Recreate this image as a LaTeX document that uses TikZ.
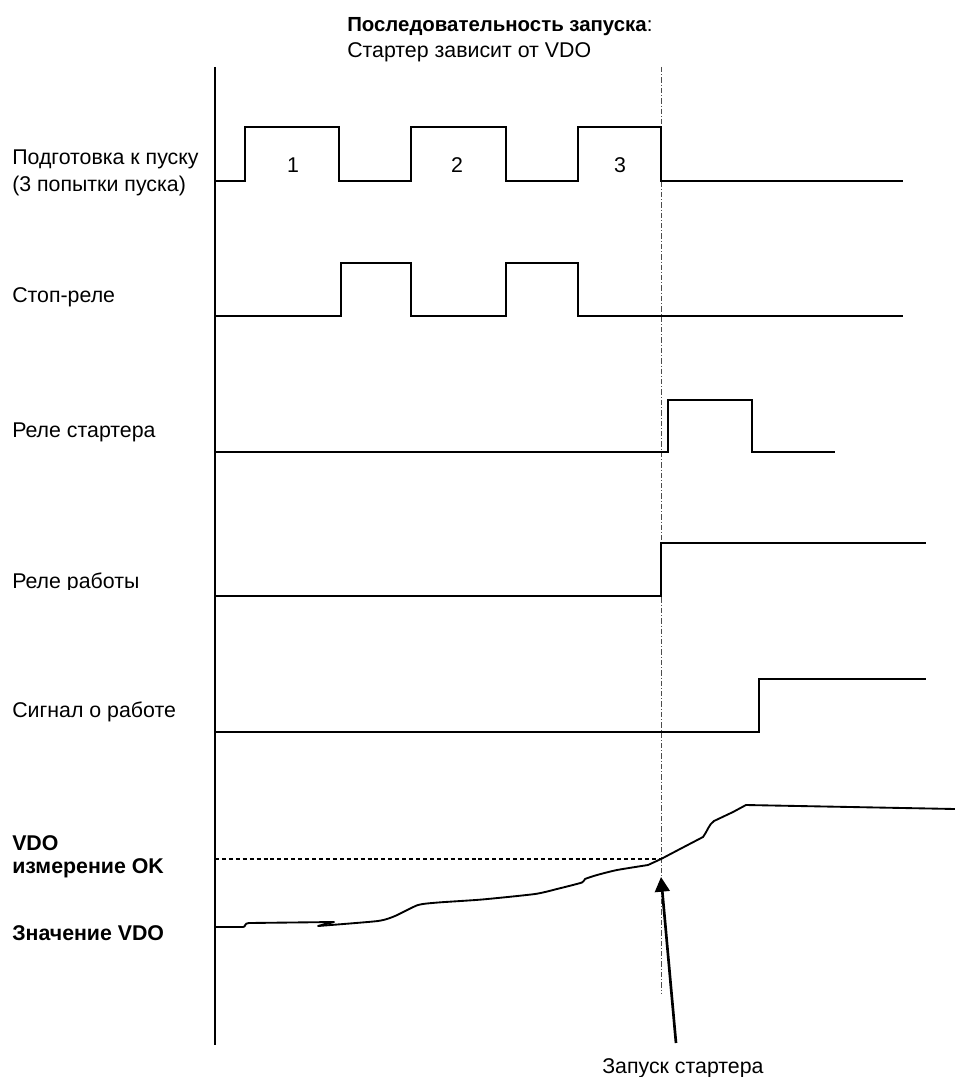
\documentclass[tikz,border=0pt]{standalone}
\usepackage{fontspec}
\setmainfont{Liberation Sans}
\usetikzlibrary{arrows.meta}

\begin{document}
\begin{tikzpicture}[x=0.75pt,y=-0.75pt,
  lbl/.style={anchor=base west, inner sep=0pt, font=\fontsize{16}{19}\selectfont},
  headlbl/.style={anchor=base west, inner sep=0pt, font=\fontsize{15.3}{18}\selectfont},
  num/.style={inner sep=0pt, font=\fontsize{16}{19}\selectfont},
  wave/.style={line width=1.5pt, line join=miter},
  axisline/.style={line width=1.1pt},
  marker/.style={line width=0.7pt, black!70, dash pattern=on 4pt off 1.5pt on 0.8pt off 1.5pt},
  level/.style={line width=0.8pt, dash pattern=on 3pt off 2.2pt},
  pointer/.style={line width=2pt, -{Triangle[length=11pt,width=11pt]}}]

\useasboundingbox (0,0) rectangle (955,1077);

% heading
\node[headlbl] (title) at (347,32) {\textbf{Последовательность запуска}:};
\node[lbl] (subtitle) at (347,58) {Стартер зависит от VDO};

% time axis and the starter-launch instant
\draw[axisline] (215,67) -- (215,1045);
\draw[marker] (661,67) -- (661,993);

% row labels
\node[lbl] (prep1) at (12,165) {Подготовка к пуску};
\node[lbl] (prep2) at (12,191) {(3 попытки пуска)};
\node[lbl] (stop) at (12,302) {Стоп-реле};
\node[lbl] (starter) at (12,437) {Реле стартера};
\begin{scope}
  \clip (0,560) rectangle (214,589);
  \node[lbl] (run) at (12,588) {Реле работы};
\end{scope}
\node[lbl] (runsig) at (12,717) {Сигнал о работе};
\node[lbl] (vdo1) at (12,850) {\textbf{VDO}};
\node[lbl] (vdo2) at (12,873) {\textbf{измерение OK}};
\node[lbl] (vdoval) at (12,940) {\textbf{Значение VDO}};

% start preparation: three attempts
\draw[wave] (215,181) -- (245,181) -- (245,127) -- (339,127) -- (339,181)
  -- (411,181) -- (411,127) -- (506,127) -- (506,181)
  -- (578,181) -- (578,127) -- (661,127) -- (661,181) -- (903,181);
\node[num] (a1) at (293,165) {1};
\node[num] (a2) at (457,165) {2};
\node[num] (a3) at (620,165) {3};

% stop relay
\draw[wave] (215,316) -- (341,316) -- (341,263) -- (411,263) -- (411,316)
  -- (506,316) -- (506,263) -- (578,263) -- (578,316) -- (903,316);

% starter relay
\draw[wave] (215,452) -- (668,452) -- (668,400) -- (752,400) -- (752,452) -- (835,452);

% run relay
\draw[wave] (215,596) -- (661,596) -- (661,543) -- (926,543);

% run signal
\draw[wave] (215,732) -- (759,732) -- (759,679) -- (926,679);

% VDO threshold
\draw[level] (215,859) -- (661,859);

% VDO value
\draw[line width=1.4pt, line join=round]
  (215,927) -- (243,927) .. controls (246,927) and (244,923) .. (249,923)
  -- (334,922) -- (318,926);
\draw[line width=1.4pt, line join=round, line cap=round]
  plot[smooth, tension=0.35] coordinates {
    (318,926) (378,921) (395,916) (418,905) (438,902.5) (482,899.5) (535,894)
    (557,889) (582,882.5) (585,879) (597,875) (617,870) (648,865)}
  -- (661,859) -- (680,849) -- (703,837)
  .. controls (707,832) and (709,824) .. (714,821)
  -- (733,812) -- (746,805) -- (955,809);

% starter launch pointer
\coordinate (tip) at (661,877);
\coordinate (tail) at (676,1043);
\draw[pointer] (tail) -- (tip);
\node[lbl] (launch) at (602,1073) {Запуск стартера};
\end{tikzpicture}
\end{document}
